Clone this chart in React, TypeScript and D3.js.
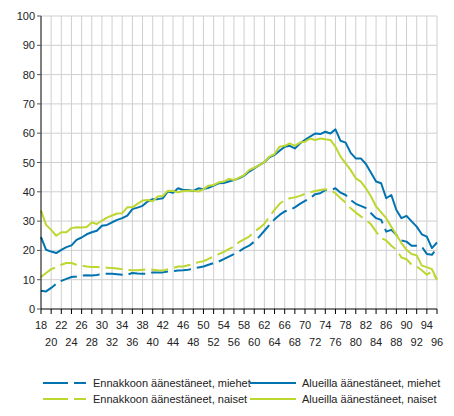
import { useRef, useEffect } from "react"
import * as d3 from "d3"

const ages = d3.range(18, 97)

const ennakkoMiehet = [
  6.2, 6, 7.2, 8.6, 9.6, 10.3, 10.9, 11.1, 11.4, 11.5, 11.4, 11.6, 12, 12, 12, 11.9, 11.7, 11.7, 12.3, 12.1,
  12, 12.1, 12.5, 12.5, 12.5, 12.8, 12.9, 13.1, 13.2, 13.4, 13.8, 14.2, 14.5, 15.1, 15.7, 16.2, 17, 17.9, 18.7, 19.6,
  20.8, 21.6, 23, 24.7, 26.7, 28.7, 30.6, 32.1, 33.3, 33.8, 34.7, 35.9, 36.9, 37.8, 39.2, 39.5, 40.6, 40.6, 41.2, 39.7,
  38.9, 37.2, 35.9, 35.2, 34.4, 32.7, 31, 30.4, 26.4, 27, 25.3, 23.4, 23, 21.6, 21.6, 21.3, 18.8, 18.5, 20.8,
]

const alueMiehet = [
  24.5, 20.2, 19.6, 19.1, 20.2, 21.1, 21.7, 23.6, 24.4, 25.5, 26.2, 26.7, 28.4, 28.7, 29.6, 30.4, 31, 31.9, 34.1, 34.6,
  35.2, 36.7, 37.5, 37.5, 37.8, 40.1, 39.7, 41.2, 40.6, 40.6, 40.3, 41.2, 40.9, 41.4, 42.1, 42.9, 43, 43.5, 44, 44.6,
  45.5, 46.9, 48, 49.1, 50.1, 51.8, 52.6, 54, 55.4, 55.7, 54.8, 56.5, 57.7, 58.8, 59.9, 59.7, 60.5, 59.9, 61.3, 57.4,
  56.8, 53.3, 51.4, 51.4, 49.5, 46.5, 43.5, 42.9, 37.8, 38.9, 33.8, 31, 31.8, 29.9, 28.1, 25.5, 24.7, 20.8, 22.7,
]

const ennakkoNaiset = [
  10.9, 12.3, 13.6, 14.2, 15.1, 15.7, 15.7, 15.1, 14.8, 14.5, 14.3, 14.3, 14.2, 14.1, 14, 13.8, 13.6, 13.3, 13.2, 13.2,
  13.4, 13.6, 13.4, 13.2, 13.1, 13.6, 14, 14.5, 14.5, 14.9, 15.3, 16, 16.3, 17.1, 17.9, 18.7, 19.5, 20.4, 21.3, 22.8,
  23.8, 24.7, 26.4, 27.6, 29.1, 31.6, 33.8, 35.9, 37.2, 37.8, 38.1, 38.6, 39.3, 39.8, 40.3, 40.6, 40.9, 40.6, 39.5, 37.8,
  36.3, 34.4, 32.9, 31.6, 30.4, 28.9, 26.4, 24.2, 23.4, 21.6, 20.2, 17.6, 17, 15.1, 14.5, 13.2, 11.7, 12.8, 10,
]

const alueNaiset = [
  33.6, 28.7, 27, 25, 26.2, 26.2, 27.6, 27.9, 27.8, 28, 29.5, 29, 30.2, 31.2, 31.9, 32.6, 32.7, 34.7, 34.7, 35.9,
  37, 37.2, 36.8, 38.4, 38.6, 40.4, 40.3, 39.8, 40.3, 40.4, 40.4, 40.1, 40.9, 42.1, 42.3, 43.2, 43.5, 44.4, 44, 44.8,
  45.7, 47.4, 48.2, 49.1, 50.1, 52, 52.9, 55.4, 55.7, 56.5, 55.7, 56.8, 57.1, 58.2, 57.7, 58.2, 57.9, 57.7, 55.4, 52,
  49.7, 47.4, 44.6, 43.5, 41.2, 38.4, 35, 33, 31, 28.1, 25.3, 22.5, 20.2, 18.8, 18.3, 14.8, 14.3, 13.6, 10,
]

const yTicks = d3.range(0, 101, 10)
const xTicks = d3.range(18, 97, 2)

const blue = "#0073b0"
const green = "#bed630"

const series = [
  { name: "Ennakkoon äänestäneet, miehet", values: ennakkoMiehet, color: blue, dashed: true },
  { name: "Alueilla äänestäneet, miehet", values: alueMiehet, color: blue, dashed: false },
  { name: "Ennakkoon äänestäneet, naiset", values: ennakkoNaiset, color: green, dashed: true },
  { name: "Alueilla äänestäneet, naiset", values: alueNaiset, color: green, dashed: false },
]

export default function App() {
  const svgRef = useRef<SVGSVGElement>(null)

  function drawChart() {
    const width = 454
    const height = 416
    const left = 41
    const right = 437
    const top = 16
    const bottom = 309
    const fontFamily = "'Liberation Sans', Arial, sans-serif"

    const svg = d3.select(svgRef.current).attr("width", width).attr("height", height)
    svg.selectAll("*").remove()

    const x = d3.scaleLinear().domain([18, 96]).range([left, right])
    const y = d3.scaleLinear().domain([0, 100]).range([bottom, top])

    // Grid
    const grid = svg.append("g").attr("id", "grid")
    grid
      .selectAll("line.h")
      .data(yTicks.filter((d) => d > 0))
      .enter()
      .append("line")
      .attr("x1", left)
      .attr("x2", right)
      .attr("y1", (d) => y(d))
      .attr("y2", (d) => y(d))
      .attr("stroke", "#cfcfcf")
      .attr("stroke-width", 1)
    grid
      .selectAll("line.v")
      .data(xTicks.filter((d) => d > 18))
      .enter()
      .append("line")
      .attr("x1", (d) => x(d))
      .attr("x2", (d) => x(d))
      .attr("y1", top)
      .attr("y2", bottom)
      .attr("stroke", "#cfcfcf")
      .attr("stroke-width", 1)

    // Lines
    const line = d3
      .line<number>()
      .x((d, i) => x(ages[i]))
      .y((d) => y(d))

    const lines = svg.append("g").attr("id", "lines")
    lines
      .selectAll("path")
      .data(series)
      .enter()
      .append("path")
      .attr("d", (d) => line(d.values))
      .attr("fill", "none")
      .attr("stroke", (d) => d.color)
      .attr("stroke-width", 2)
      .attr("stroke-linejoin", "round")
      .attr("stroke-dasharray", (d) => (d.dashed ? "17,6" : null))

    // Left Axis
    const leftAxis = svg.append("g").attr("id", "leftAxis")
    leftAxis
      .append("line")
      .attr("x1", left)
      .attr("x2", left)
      .attr("y1", top)
      .attr("y2", bottom)
      .attr("stroke", "#000")
    leftAxis
      .selectAll("line.tick")
      .data(yTicks)
      .enter()
      .append("line")
      .attr("x1", left - 4)
      .attr("x2", left)
      .attr("y1", (d) => y(d))
      .attr("y2", (d) => y(d))
      .attr("stroke", "#555")
    leftAxis
      .selectAll("text")
      .data(yTicks)
      .enter()
      .append("text")
      .text((d) => d)
      .attr("x", left - 6)
      .attr("y", (d) => y(d) + 4)
      .attr("text-anchor", "end")
      .style("font-size", "11px")
      .style("font-family", fontFamily)
      .attr("fill", "#222")

    // Bottom Axis
    const bottomAxis = svg.append("g").attr("id", "bottomAxis")
    bottomAxis
      .append("line")
      .attr("x1", left)
      .attr("x2", right)
      .attr("y1", bottom)
      .attr("y2", bottom)
      .attr("stroke", "#000")
    bottomAxis
      .selectAll("line.tick")
      .data(xTicks)
      .enter()
      .append("line")
      .attr("x1", (d) => x(d))
      .attr("x2", (d) => x(d))
      .attr("y1", bottom)
      .attr("y2", bottom + 5)
      .attr("stroke", "#000")
    bottomAxis
      .selectAll("text")
      .data(xTicks)
      .enter()
      .append("text")
      .text((d) => d)
      .attr("x", (d) => x(d))
      .attr("y", (d, i) => (i % 2 === 0 ? 329 : 346))
      .attr("text-anchor", "middle")
      .style("font-size", "11px")
      .style("font-family", fontFamily)
      .attr("fill", "#222")

    // Legend
    const legend = svg.append("g").attr("id", "legend")
    const items = legend
      .selectAll("g")
      .data(series)
      .enter()
      .append("g")
      .attr("transform", (d, i) => `translate(${i % 2 === 0 ? 43 : 250}, ${i < 2 ? 383 : 399})`)
    items
      .append("line")
      .attr("x1", 0)
      .attr("x2", (d) => (d.dashed ? 43 : 46))
      .attr("y1", 0)
      .attr("y2", 0)
      .attr("stroke", (d) => d.color)
      .attr("stroke-width", 2)
      .attr("stroke-dasharray", (d) => (d.dashed ? "25,6" : null))
    items
      .append("text")
      .text((d) => d.name)
      .attr("x", (d) => (d.dashed ? 50 : 52))
      .attr("y", 4)
      .style("font-size", "11px")
      .style("font-family", fontFamily)
      .attr("fill", "#222")
  }

  useEffect(() => {
    drawChart()
  }, [svgRef])

  return (
    <div>
      <svg ref={svgRef} style={{ position: "absolute", left: 0, top: 0 }}></svg>
    </div>
  )
}
